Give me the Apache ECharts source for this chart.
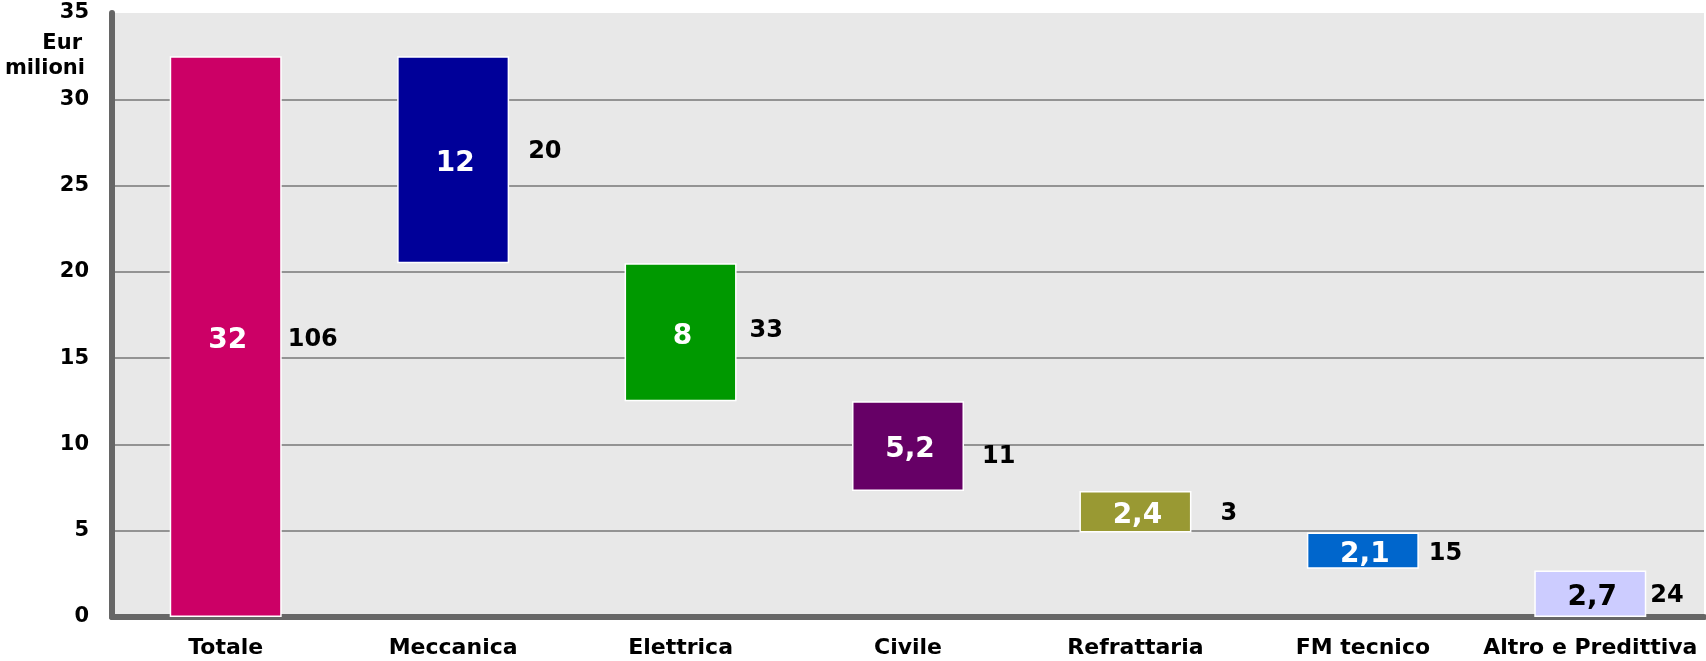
<!DOCTYPE html>
<html>
<head>
<meta charset="utf-8">
<title>Eur milioni</title>
<script src="https://cdn.jsdelivr.net/npm/echarts@6/dist/echarts.min.js"></script>
<style>
  html, body { margin: 0; padding: 0; background: #fff; }
  #chart { width: 1706px; height: 661px; }
</style>
</head>
<body>
<div id="chart"></div>
<script>
// dati
var categorie = ['Totale', 'Meccanica', 'Elettrica', 'Civile', 'Refrattaria', 'FM tecnico', 'Altro e Predittiva'];
var valori = [32.5, 12, 8, 5.2, 2.4, 2.1, 2.7];
var basi = [0, 20.5, 12.5, 7.3, 4.9, 2.8, 0];
var etichette = ['32', '12', '8', '5,2', '2,4', '2,1', '2,7'];
var numeri = ['106', '20', '33', '11', '3', '15', '24'];
var colori = ['#CC0066', '#000099', '#009900', '#660066', '#999933', '#0066CC', '#CCCCFF'];
var tickY = [0, 5, 10, 15, 20, 25, 30, 35];

// scostamento etichette a destra [distanza dalla barra, spostamento verticale]
var scostamenti = [[6, 3], [19, -8], [13, -1], [18, 11], [29, 2], [10, 3], [4, 2]];

var font = 'DejaVu Sans';
var chart = echarts.init(document.getElementById('chart'));

var datiBarre = [];
var datiNumeri = [];
for (var i = 0; i < categorie.length; i++) {
    datiBarre.push({
        value: valori[i],
        itemStyle: { color: colori[i] },
        label: { color: i === 6 ? '#000000' : '#ffffff' }
    });
    datiNumeri.push({
        value: [i, basi[i] + valori[i] / 2],
        label: { color: '#000000', offset: [56 + scostamenti[i][0], scostamenti[i][1]] }
    });
}

var griglia = ['#777777', '#777777', '#777777', '#777777', '#777777', '#777777', '#777777', 'rgba(0,0,0,0)'];

chart.setOption({
    animation: false,
    textStyle: { fontFamily: font },
    grid: {
        left: 112, right: 2, top: 13, bottom: 44,
        show: true, backgroundColor: '#e8e8e8', borderWidth: 0
    },
    xAxis: {
        type: 'category',
        data: categorie,
        axisLine: { show: true, lineStyle: { color: '#666666', width: 6 } },
        axisTick: { show: false },
        axisLabel: {
            interval: 0, margin: 20,
            color: '#000', fontFamily: font, fontWeight: 'bold', fontSize: 22
        },
        splitLine: { show: false }
    },
    yAxis: {
        type: 'value',
        min: tickY[0], max: tickY[tickY.length - 1], interval: 5,
        axisLine: { show: true, lineStyle: { color: '#666666', width: 6 } },
        axisTick: { show: false },
        axisLabel: {
            margin: 23,
            color: '#000', fontFamily: font, fontWeight: 'bold', fontSize: 21
        },
        splitLine: { show: true, lineStyle: { color: griglia, width: 1.5 } }
    },
    graphic: [
        { type: 'text', right: 1706 - 82, top: 33,
          style: { text: 'Eur', fill: '#000', font: 'bold 21px "DejaVu Sans"', textAlign: 'right' } },
        { type: 'text', right: 1706 - 85, top: 58,
          style: { text: 'milioni', fill: '#000', font: 'bold 21px "DejaVu Sans"', textAlign: 'right' } }
    ],
    series: [
        {
            name: 'base',
            type: 'bar',
            stack: 'w',
            barWidth: 112,
            silent: true,
            itemStyle: { color: 'rgba(0,0,0,0)', borderWidth: 0 },
            data: basi
        },
        {
            name: 'valore',
            type: 'bar',
            stack: 'w',
            barWidth: 112,
            itemStyle: { borderColor: '#ffffff', borderWidth: 1.5 },
            label: {
                show: true,
                position: 'inside',
                offset: [2, 4],
                fontFamily: font,
                fontWeight: 'bold',
                fontSize: 28,
                formatter: function (p) { return etichette[p.dataIndex]; }
            },
            data: datiBarre
        },
        {
            name: 'numeri',
            type: 'scatter',
            symbolSize: 0,
            silent: true,
            itemStyle: { opacity: 1 },
            label: {
                show: true,
                position: 'right',
                distance: 0,
                color: '#000000',
                fontFamily: font,
                fontWeight: 'bold',
                fontSize: 24,
                formatter: function (p) { return numeri[p.dataIndex]; }
            },
            data: datiNumeri
        }
    ]
});
</script>
</body>
</html>
